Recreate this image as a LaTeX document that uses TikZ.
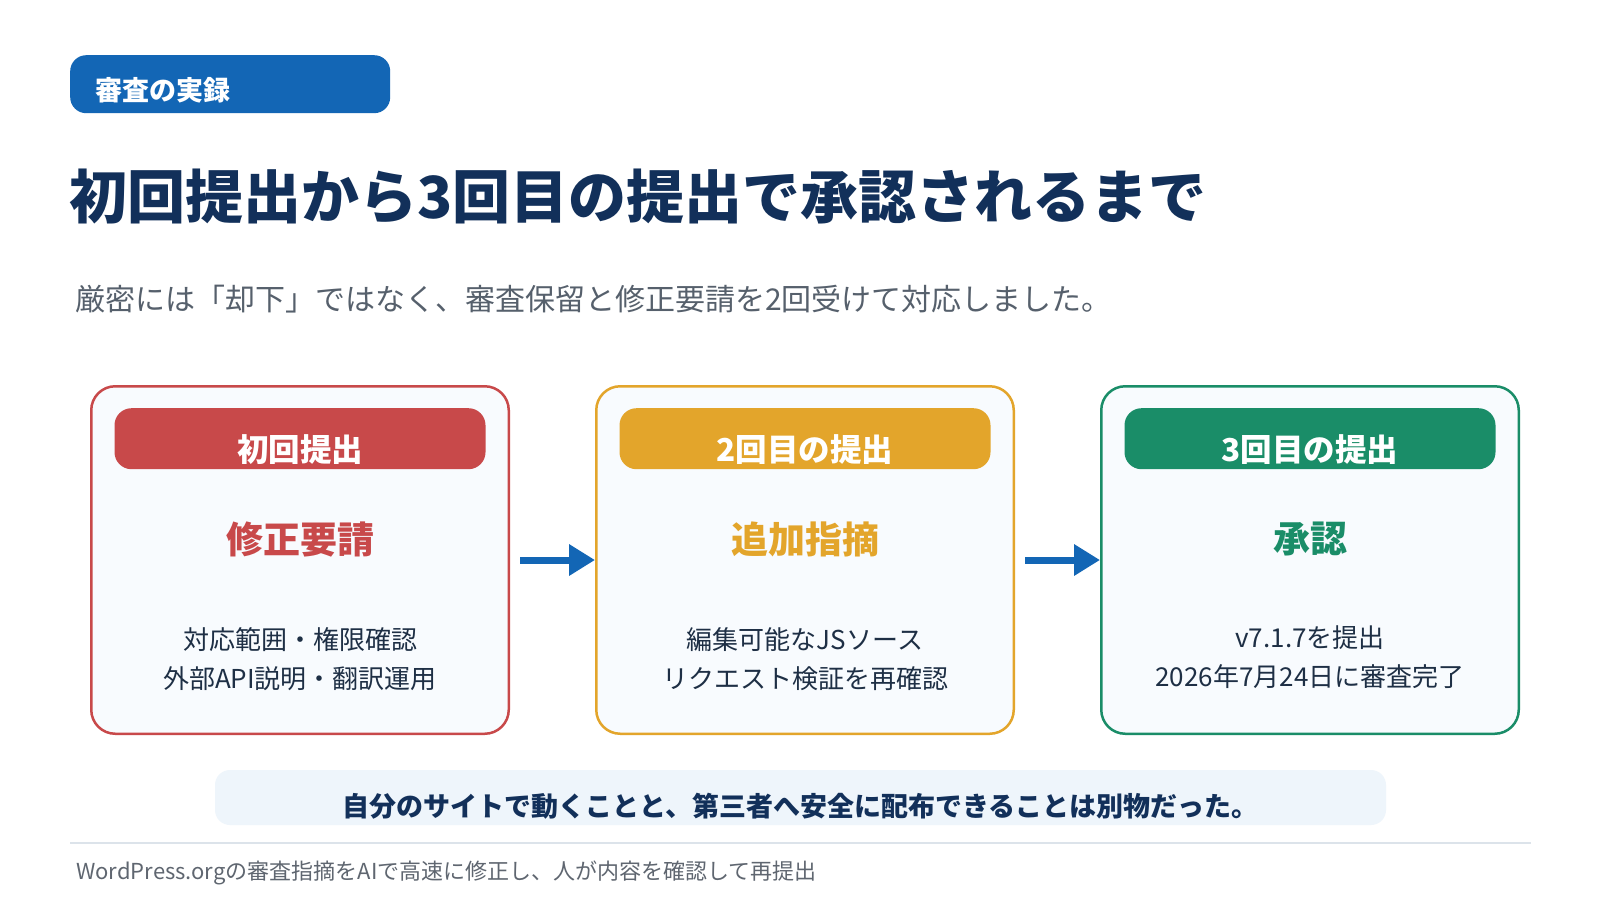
\documentclass[tikz,border=0pt]{standalone}
\usepackage{fontspec}
\newfontfamily\jp{Noto Sans CJK JP}
\usetikzlibrary{arrows.meta,positioning}
\definecolor{navy}{HTML}{12305A}
\definecolor{ink}{HTML}{1E2F45}
\definecolor{subgray}{HTML}{56606C}
\definecolor{footgray}{HTML}{5F6670}
\definecolor{tagblue}{HTML}{1366B5}
\definecolor{redc}{HTML}{C8494A}
\definecolor{ambc}{HTML}{E3A52B}
\definecolor{grnc}{HTML}{1A8D68}
\definecolor{cardbg}{HTML}{F8FBFE}
\definecolor{notebg}{HTML}{EEF5FB}
\definecolor{rulegray}{HTML}{DCE3EA}
\tikzset{
  tag/.style={fill=tagblue, rounded corners=16pt, text=white, align=left,
              minimum height=58pt, text width=270pt, inner xsep=25pt, inner ysep=0pt,
              text height=35pt, text depth=2.6pt,
              font=\jp\bfseries\fontsize{27}{32}\selectfont},
  title/.style={text=navy, inner sep=0pt, font=\jp\bfseries\fontsize{58}{70}\selectfont},
  lead/.style={text=subgray, inner sep=0pt, font=\jp\fontsize{30}{36}\selectfont},
  card/.style={draw=#1, line width=2.5pt, rounded corners=24pt, fill=cardbg,
               minimum width=417.5pt, minimum height=347.5pt},
  head/.style={fill=#1, rounded corners=17pt, minimum width=371pt, minimum height=61pt,
               inner sep=0pt, text=white, text height=48pt, text depth=3pt,
               font=\jp\bfseries\fontsize{31.5}{38}\selectfont},
  verdict/.style={text=#1, inner sep=0pt, font=\jp\bfseries\fontsize{37}{44}\selectfont},
  detail/.style={text=ink, align=center, inner sep=0pt, font=\jp\fontsize{26}{39}\selectfont},
  flow/.style={-{Triangle[length=26pt, width=30pt]}, line width=7pt, draw=tagblue},
  note/.style={fill=notebg, rounded corners=15pt, minimum width=1171pt, minimum height=55pt,
               inner sep=0pt, text=navy, text height=40pt, text depth=2.6pt,
               font=\jp\bfseries\fontsize{27}{32}\selectfont},
  foot/.style={text=footgray, inner sep=0pt, font=\jp\fontsize{22}{26}\selectfont},
}

\begin{document}
\begin{tikzpicture}[x=1pt, y=-1pt]
  \useasboundingbox[fill=white] (0,0) rectangle (1600,900);

  % heading
  \node[tag, anchor=north west] (tag) at (70,55) {審査の実録};
  \node[title, anchor=west] (title) at (69,197) {初回提出から3回目の提出で承認されるまで};
  \node[lead, anchor=west] (lead) at (75,299)
    {厳密には「却下」ではなく、審査保留と修正要請を2回受けて対応しました。};

  % three submissions
  \node[card=redc] (c1) at (300,560) {};
  \node[card=ambc, right=85pt of c1] (c2) {};
  \node[card=grnc, right=85pt of c2] (c3) {};

  \node[head=redc, below=23pt of c1.north] (h1) {初回提出};
  \node[head=ambc, below=23pt of c2.north] (h2) {2回目の提出};
  \node[head=grnc, below=23pt of c3.north] (h3) {3回目の提出};

  \node[verdict=redc, below=52pt of h1] (v1) {修正要請};
  \node[verdict=ambc, below=52pt of h2] (v2) {追加指摘};
  \node[verdict=grnc, below=52pt of h3] (v3) {承認};

  \node[detail, below=70pt of v1] (d1) {対応範囲・権限確認\\外部API説明・翻訳運用};
  \node[detail, below=70pt of v2] (d2) {編集可能なJSソース\\リクエスト検証を再確認};
  \node[detail, below=70pt of v3] (d3) {v7.1.7を提出\\2026年7月24日に審査完了};

  \draw[flow] ([xshift=10pt]c1.east) -- (c2.west);
  \draw[flow] ([xshift=10pt]c2.east) -- (c3.west);

  % takeaway and footer
  \node[note] (note) at (800.5,797.5)
    {自分のサイトで動くことと、第三者へ安全に配布できることは別物だった。};
  \coordinate (ruleL) at (70,843);
  \coordinate (ruleR) at (1531,843);
  \draw[rulegray, line width=1.5pt] (ruleL) -- (ruleR);
  \node[foot, anchor=west] (foot) at (76,873)
    {WordPress.orgの審査指摘をAIで高速に修正し、人が内容を確認して再提出};
\end{tikzpicture}
\end{document}
